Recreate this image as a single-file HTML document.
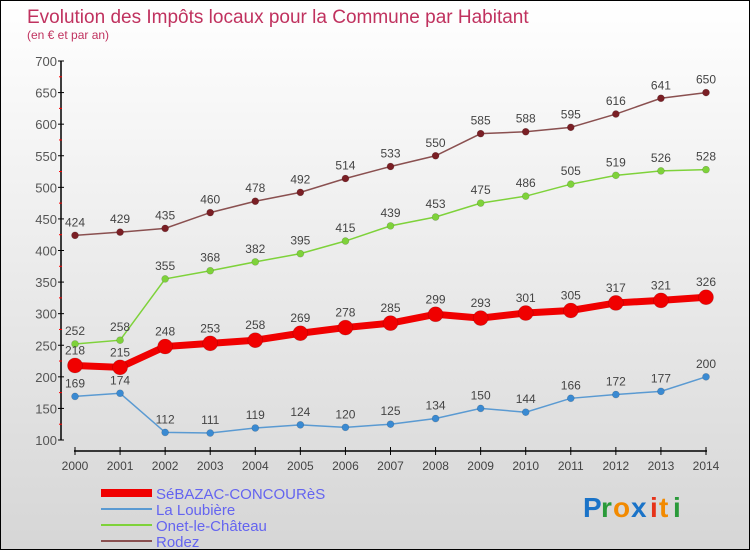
<!DOCTYPE html>
<html><head><meta charset="utf-8"><style>
body{margin:0}
#c{width:748px;height:548px;border:1px solid #000;background:linear-gradient(#fff,#d6d6d6);position:relative;overflow:hidden;font-family:"Liberation Sans",sans-serif}
</style></head><body>
<div id="c">
<svg id="s" width="748" height="548" xmlns="http://www.w3.org/2000/svg">
<text x="26" y="22" font-size="19" fill="#c0325f">Evolution des Impôts locaux pour la Commune par Habitant</text>
<text x="26" y="38" font-size="12" fill="#c0325f">(en € et par an)</text>
<g id="axes"></g><g id="series"></g><g id="legend"></g>
<g font-size="28" font-weight="bold">
<text x="582" y="516" fill="#1a73c8">P</text><text x="600" y="516" fill="#2a9a3a">r</text><text x="612" y="516" fill="#f28a00">o</text><text x="630" y="516" fill="#1a73c8">x</text><text x="649" y="516" fill="#e6331a">i</text><text x="658" y="516" fill="#f28a00">t</text><text x="672" y="516" fill="#2a9a3a">i</text>
</g>
</svg></div>
<script>
const years=[2000,2001,2002,2003,2004,2005,2006,2007,2008,2009,2010,2011,2012,2013,2014];
const sebazac=[218,215,248,253,258,269,278,285,299,293,301,305,317,321,326];
const loubiere=[169,174,112,111,119,124,120,125,134,150,144,166,172,177,200];
const onet=[252,258,355,368,382,395,415,439,453,475,486,505,519,526,528];
const rodez=[424,429,435,460,478,492,514,533,550,585,588,595,616,641,650];
const yTicks=[100,150,200,250,300,350,400,450,500,550,600,650,700];
const NS="http://www.w3.org/2000/svg";
function X(i){return 74+i*(705-74)/14;}
function Y(v){return 439-(v-100)*(439-60)/600;}
function mk(t,a,p){const e=document.createElementNS(NS,t);for(const k in a)e.setAttribute(k,a[k]);p.appendChild(e);return e;}
const ax=document.getElementById('axes');
const yl=mk('line',{x1:60,y1:60,x2:60,y2:439,stroke:'#000','stroke-width':1.5},ax);


yTicks.forEach((v,k)=>{
 mk('line',{x1:57,y1:Y(v),x2:63,y2:Y(v),stroke:'#000'},ax);
 if(k<yTicks.length-1) mk('line',{x1:58,y1:Y(v+25),x2:61,y2:Y(v+25),stroke:'#f00'},ax);
 const t=mk('text',{x:56,y:Y(v)+5,'font-size':13,fill:'#555','text-anchor':'end'},ax);t.textContent=v;
 
 
});
const xl=mk('line',{x1:X(0)-1,y1:450,x2:X(14)+1,y2:450,stroke:'#000','stroke-width':1.5},ax);


years.forEach((y,i)=>{
 mk('line',{x1:X(i),y1:446,x2:X(i),y2:454,stroke:'#000'},ax);
 const t=mk('text',{x:X(i),y:469,'font-size':12,fill:'#444','text-anchor':'middle'},ax);t.textContent=y;
 
 
});
const sg=document.getElementById('series');
const defs=[
 {name:'rodez',d:rodez,c:'#7a1f25',w:1.5,r:3.5,lc:'#8a5050'},
 {name:'onet',d:onet,c:'#7ed23a',w:1.5,r:3.5,lc:'#7ed23a'},
 {name:'loubiere',d:loubiere,c:'#3a8ad2',w:1.5,r:3.5,lc:'#5a9ad2'},
 {name:'sebazac',d:sebazac,c:'#f00000',w:7,r:7.5,lc:'#f00000'}
];
defs.forEach(s=>{
 const g=mk('g',{},sg);
 
 
 mk('polyline',{points:s.d.map((v,i)=>X(i)+','+Y(v)).join(' '),fill:'none',stroke:s.lc,'stroke-width':s.w},g);
 s.d.forEach((v,i)=>{
  const c=mk('circle',{cx:X(i),cy:Y(v),r:s.r,fill:s.c,stroke:'#0003','stroke-width':0.6},g);
  
  
  const t=mk('text',{x:X(i),y:Y(v)-9-(s.r>5?2:0),'font-size':12,fill:'#444','text-anchor':'middle'},g);t.textContent=v;
  
  
 });
});
const lg=document.getElementById('legend');
const items=[['SéBAZAC-CONCOURèS','#f00000',8],['La Loubière','#5a9ad2',2],['Onet-le-Château','#7ed23a',2],['Rodez','#8a5050',2]];
items.forEach((it,i)=>{
 const y=492+i*16;
 const g=mk('g',{},lg);
 
 
 mk('line',{x1:100,y1:y,x2:151,y2:y,stroke:it[1],'stroke-width':it[2]},g);
 const t=mk('text',{x:155,y:y+6,'font-size':15,fill:'#6464f0'},g);t.textContent=it[0];
});
</script>
</body></html>
